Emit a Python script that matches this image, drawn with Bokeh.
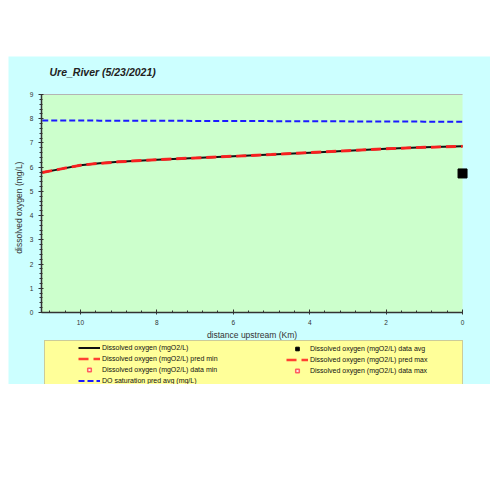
import math
from bokeh.plotting import figure
from bokeh.models import Range1d, Legend, LegendItem, Spacer, SingleIntervalTicker, Label
from bokeh.layouts import column, row
from bokeh.embed import file_html
from bokeh.resources import INLINE

# ---- data ----
title_text = "Ure_River (5/23/2021)"
x_label = "distance upstream (Km)"
y_label = "dissolved oxygen (mg/L)"
dist_km = [11.0, 10.5, 10.0, 9.5, 9.0, 8.0, 7.0, 6.0, 5.0, 4.0, 3.0, 2.0, 1.0, 0.0]
do_pred = [5.78, 5.93, 6.08, 6.16, 6.22, 6.31, 6.38, 6.45, 6.52, 6.60, 6.68, 6.76, 6.82, 6.86]
do_pred_min = [5.77, 5.92, 6.07, 6.15, 6.21, 6.30, 6.37, 6.44, 6.51, 6.59, 6.67, 6.75, 6.81, 6.85]
do_pred_max = [5.79, 5.94, 6.09, 6.17, 6.23, 6.32, 6.39, 6.46, 6.53, 6.61, 6.69, 6.77, 6.83, 6.87]
do_sat = [7.93, 7.93, 7.93, 7.92, 7.92, 7.92, 7.91, 7.91, 7.90, 7.90, 7.89, 7.89, 7.88, 7.88]
data_dist = [0.0]
data_avg = [5.74]
data_min = [float("nan")]
data_max = [float("nan")]
x_axis_range = (11.02, 0.0)
y_axis_range = (0.0, 9.0)

FONT = "Liberation Sans"
CYAN = "#CCFFFF"
GREEN = "#CCFFCC"

# the frame covers the whole panel; axes are placed at fixed locations inside it
p = figure(
    frame_width=482, frame_height=328,
    x_range=Range1d(11.883, -0.732), y_range=Range1d(-2.973, 10.569),
    output_backend="svg", toolbar_location=None, tools="",
    min_border=0, border_fill_color=CYAN, background_fill_color=CYAN,
    outline_line_color=None,
)
p.grid.visible = False

# green plotting area + light top edge
p.quad(left=[x_axis_range[0]], right=[x_axis_range[1]], bottom=[y_axis_range[0]],
       top=[y_axis_range[1]], fill_color=GREEN, line_color=None, level="underlay")
p.line([x_axis_range[0], x_axis_range[1]], [y_axis_range[1], y_axis_range[1]],
       line_color="#b4b4b4", line_width=1, level="underlay")

# title
p.add_layout(Label(x=10.81, y=9.91, text=title_text, text_font=FONT, text_font_size="10.5px",
                   text_font_style="bold italic", text_color="#222222", text_baseline="middle"))
# y axis title
p.add_layout(Label(x=11.62, y=4.33, text=y_label, angle=math.pi / 2, text_font=FONT,
                   text_font_size="8.5px", text_color="#333333", text_align="center",
                   text_baseline="middle"))

# axes
for ax in (p.xaxis[0], p.yaxis[0]):
    ax.axis_line_color = "#333333"
    ax.axis_line_width = 1.5
    ax.major_tick_line_color = "#333333"
    ax.minor_tick_line_color = "#333333"
    ax.major_label_text_font = FONT
    ax.major_label_text_font_size = "6.5px"
    ax.major_label_text_color = "#333333"
    ax.axis_label_text_font = FONT
    ax.axis_label_text_font_size = "8.5px"
    ax.axis_label_text_font_style = "normal"
    ax.axis_label_text_color = "#333333"

p.xaxis.fixed_location = y_axis_range[0]
p.xaxis.bounds = (x_axis_range[1], x_axis_range[0])
p.xaxis.ticker = SingleIntervalTicker(interval=2, num_minor_ticks=5)
p.xaxis.major_tick_in = 3
p.xaxis.major_tick_out = 2
p.xaxis.minor_tick_in = 2
p.xaxis.minor_tick_out = 0
p.xaxis.major_label_standoff = 6
p.xaxis.axis_label = x_label
p.xaxis.axis_label_standoff = 1

p.yaxis.fixed_location = x_axis_range[0]
p.yaxis.bounds = y_axis_range
p.yaxis.ticker = SingleIntervalTicker(interval=1, num_minor_ticks=5)
p.yaxis.major_tick_in = 2
p.yaxis.major_tick_out = 3
p.yaxis.minor_tick_in = 1
p.yaxis.minor_tick_out = 2
p.yaxis.major_label_standoff = 5

# glyphs
r_sat = p.line(dist_km, do_sat, line_color="#1a1aff", line_width=2, line_dash="6 3")
r_model = p.line(dist_km, do_pred, line_color="#111111", line_width=2)
r_min = p.line(dist_km, do_pred_min, line_color="#ff2020", line_width=2.5, line_dash="10 5", line_alpha=0.85)
r_max = p.line(dist_km, do_pred_max, line_color="#ff2020", line_width=2.5, line_dash="10 5", line_alpha=0.85)
r_avg = p.scatter(data_dist, data_avg, marker="square", size=9, fill_color="black",
                  line_color="black", level="overlay")
r_dmin = p.scatter(data_dist, data_min, marker="square", size=8, fill_color="#ffe6e6",
                   line_color="#ff6060", line_width=1.5)
r_dmax = p.scatter(data_dist, data_max, marker="square", size=8, fill_color="#ffe6e6",
                   line_color="#ff6060", line_width=1.5)

common = dict(
    label_text_font=FONT, label_text_font_size="7px", label_text_color="#111111",
    glyph_width=22, glyph_height=9, label_height=9, label_standoff=2,
    spacing=2, padding=2, border_line_color="#999999", border_line_width=1,
)

legend_left = Legend(
    items=[
        LegendItem(label="Dissolved oxygen (mgO2/L)", renderers=[r_model]),
        LegendItem(label="Dissolved oxygen (mgO2/L) pred min", renderers=[r_min]),
        LegendItem(label="Dissolved oxygen (mgO2/L) data min", renderers=[r_dmin]),
        LegendItem(label="DO saturation pred avg (mg/L)", renderers=[r_sat]),
    ],
    location=(36, -4), background_fill_color="#FFFF99", background_fill_alpha=1.0,
    title=" ", title_location="left", title_standoff=26, title_text_font_size="4px",
    label_width=358, **common,
)
p.add_layout(legend_left, "center")

legend_right = Legend(
    items=[
        LegendItem(label="Dissolved oxygen (mgO2/L) data avg", renderers=[r_avg]),
        LegendItem(label="Dissolved oxygen (mgO2/L) pred max", renderers=[r_max]),
        LegendItem(label="Dissolved oxygen (mgO2/L) data max", renderers=[r_dmax]),
    ],
    location=(276, 7), background_fill_alpha=0.0, label_width=120, **common,
)
legend_right.border_line_alpha = 0.0
p.add_layout(legend_right, "center")

layout = row(Spacer(width=8), column(Spacer(height=56), p))
open("out.html", "w").write(file_html(layout, INLINE))
